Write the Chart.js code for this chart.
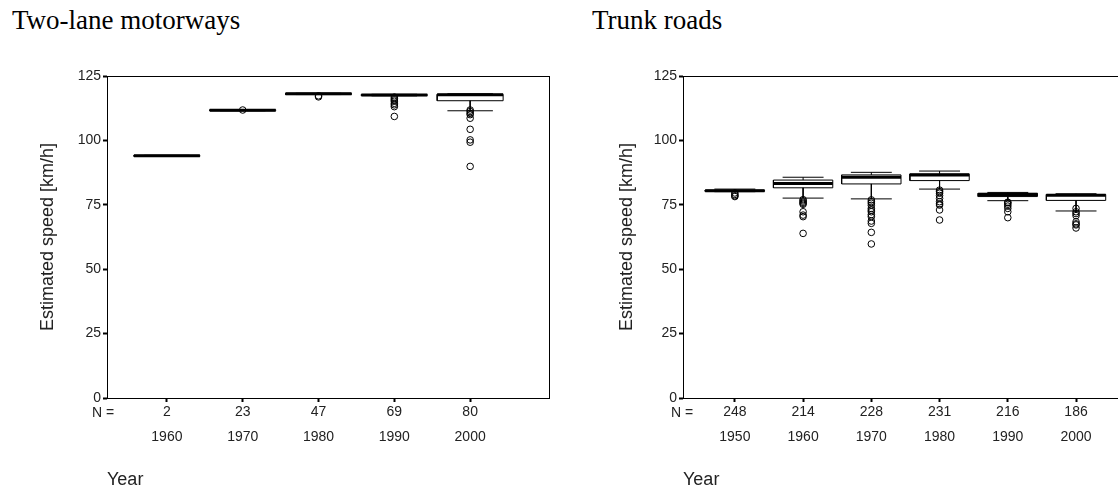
<!DOCTYPE html>
<html>
<head>
<meta charset="utf-8">
<script src="https://cdn.jsdelivr.net/npm/chart.js@4"></script>
<style>
  html, body { margin: 0; padding: 0; background: #fff; width: 1118px; height: 491px; overflow: hidden; }
  .wrap { position: relative; width: 1118px; height: 491px; overflow: hidden; }
  canvas { position: absolute; top: 0; }
  .title { position: absolute; top: 7px; font-family: "Liberation Serif", "Times New Roman", serif; font-size: 27px; line-height: 1; color: #000; white-space: nowrap; }
  .nlab { position: absolute; top: 404px; font-family: "Liberation Sans", Arial, sans-serif; font-size: 14px; line-height: 17px; color: #222; white-space: nowrap; }
</style>
</head>
<body>
<div class="wrap">
  <div class="title" style="left:12px">Two-lane motorways</div>
  <div class="title" style="left:592px">Trunk roads</div>
  <canvas id="c1" width="560" height="491" style="left:0px"></canvas>
  <canvas id="c2" width="600" height="491" style="left:560px"></canvas>
  <div class="nlab" style="left:92px">N =</div>
  <div class="nlab" style="left:671px">N =</div>
</div>
<script>
// ---- Two-lane motorways ----
const motorwayYears = ['1960', '1970', '1980', '1990', '2000'];
const motorwayN = [2, 23, 47, 69, 80];
const motorwayMin = [93.8, 111.5, 117.8, 117.3, 111.5];
const motorwayQ1 = [93.8, 111.5, 117.8, 117.4, 115.4];
const motorwayMedian = [94.0, 111.7, 118.1, 117.6, 117.7];
const motorwayQ3 = [94.2, 111.9, 118.3, 117.8, 117.9];
const motorwayMax = [94.2, 111.9, 118.3, 117.9, 118.1];
const motorwayOutliers = [
  [],
  [111.8],
  [117.3, 116.9],
  [116.8, 116.2, 115.7, 115.2, 114.4, 113.8, 113.1, 109.3],
  [111.8, 111.2, 110.5, 110.0, 108.6, 104.3, 100.2, 99.3, 89.9]
];

// ---- Trunk roads ----
const trunkYears = ['1950', '1960', '1970', '1980', '1990', '2000'];
const trunkN = [248, 214, 228, 231, 216, 186];
const trunkMin = [80.1, 77.6, 77.3, 81.1, 76.6, 72.6];
const trunkQ1 = [80.2, 81.6, 83.1, 84.4, 78.2, 76.7];
const trunkMedian = [80.5, 83.3, 85.7, 86.6, 79.0, 78.7];
const trunkQ3 = [80.7, 84.6, 86.6, 87.0, 79.5, 79.0];
const trunkMax = [81.1, 85.7, 87.6, 88.1, 79.8, 79.3];
const trunkOutliers = [
  [79.6, 79.0, 78.5, 78.2],
  [77.0, 76.5, 76.0, 75.6, 75.2, 72.3, 71.0, 70.4, 63.9],
  [76.9, 76.2, 75.6, 74.8, 73.6, 72.9, 72.3, 71.2, 70.4, 68.7, 67.8, 64.3, 59.8],
  [80.7, 80.1, 79.5, 78.6, 77.5, 76.2, 75.4, 74.9, 73.0, 69.1],
  [76.0, 75.8, 75.2, 74.5, 73.6, 72.3, 70.0],
  [73.6, 72.3, 71.6, 70.8, 68.4, 67.6, 67.2, 66.0]
];

const yTicks = [0, 25, 50, 75, 100, 125];

const frame = {
  id: 'frame',
  afterDraw(chart) {
    const a = chart.chartArea, ctx = chart.ctx;
    ctx.save();
    ctx.strokeStyle = '#000';
    ctx.lineWidth = 1;
    ctx.strokeRect(Math.round(a.left) + 0.5, Math.round(a.top) + 0.5,
                   Math.round(a.right - a.left), Math.round(a.bottom - a.top));
    ctx.restore();
  }
};

function makeBoxChart(id, years, n, mins, q1s, meds, q3s, maxs, outs, lay) {
  const HALF = 0.435, CAP = 0.3;
  const boxPts = [], medPts = [], whiskPts = [], outPts = [];
  years.forEach((_, i) => {
    boxPts.push({x: i - HALF, y: q1s[i]}, {x: i + HALF, y: q1s[i]}, {x: i + HALF, y: q3s[i]},
                {x: i - HALF, y: q3s[i]}, {x: i - HALF, y: q1s[i]}, {x: i, y: null});
    medPts.push({x: i - HALF, y: meds[i]}, {x: i + HALF, y: meds[i]}, {x: i, y: null});
    whiskPts.push({x: i, y: q3s[i]}, {x: i, y: maxs[i]}, {x: i, y: null},
                  {x: i, y: q1s[i]}, {x: i, y: mins[i]}, {x: i, y: null},
                  {x: i - CAP, y: maxs[i]}, {x: i + CAP, y: maxs[i]}, {x: i, y: null},
                  {x: i - CAP, y: mins[i]}, {x: i + CAP, y: mins[i]}, {x: i, y: null});
    outs[i].forEach(v => outPts.push({x: i, y: v}));
  });
  const lineDs = (data, w) => ({
    data, showLine: true, borderColor: '#000', borderWidth: w, pointRadius: 0,
    spanGaps: false, fill: false, borderCapStyle: 'butt'
  });
  new Chart(document.getElementById(id), {
    type: 'scatter',
    data: {
      datasets: [
        lineDs(whiskPts, 1),
        lineDs(boxPts, 1),
        lineDs(medPts, 3),
        {
          data: outPts, showLine: false, pointRadius: 3.3, pointBorderWidth: 1,
          pointBorderColor: '#000', pointBackgroundColor: 'rgba(255,255,255,0)', pointStyle: 'circle'
        }
      ]
    },
    options: {
      responsive: false,
      devicePixelRatio: 1,
      animation: false,
      events: [],
      layout: { padding: { left: lay.padLeft, top: 76, right: lay.padRight, bottom: 0 } },
      plugins: { legend: { display: false }, tooltip: { enabled: false } },
      scales: {
        x: {
          type: 'linear',
          min: lay.xMin,
          max: lay.xMax,
          afterBuildTicks: s => { s.ticks = years.map((_, i) => ({ value: i })); },
          afterFit: s => { s.height = 93; },
          ticks: {
            autoSkip: false, maxRotation: 0, minRotation: 0,
            color: '#222',
            padding: -2,
            font: { family: '"Liberation Sans", Arial, sans-serif', size: 14, lineHeight: 25 / 14 },
            callback: (v, idx) => [String(n[idx]), years[idx]]
          },
          grid: { drawOnChartArea: false, drawTicks: true, tickLength: 4, color: '#000', tickWidth: 2 },
          border: { display: true, color: '#000', width: 1 },
          title: {
            display: true, text: 'Year', align: 'start', color: '#222',
            font: { family: '"Liberation Sans", Arial, sans-serif', size: 18 },
            padding: { top: 0, bottom: 0 }
          }
        },
        y: {
          type: 'linear',
          min: 0,
          max: 125,
          afterBuildTicks: s => { s.ticks = yTicks.map(v => ({ value: v })); },
          afterFit: s => { s.width = lay.yWidth; },
          ticks: {
            color: '#222', padding: 2,
            font: { family: '"Liberation Sans", Arial, sans-serif', size: 14 }
          },
          grid: { drawOnChartArea: false, drawTicks: true, tickLength: 4, color: '#000', tickWidth: 2 },
          border: { display: true, color: '#000', width: 1 },
          title: {
            display: true, text: 'Estimated speed [km/h]', color: '#222',
            font: { family: '"Liberation Sans", Arial, sans-serif', size: 18 },
            padding: { top: 0, bottom: 0 }
          }
        }
      }
    },
    plugins: [frame]
  });
}

makeBoxChart('c1', motorwayYears, motorwayN, motorwayMin, motorwayQ1, motorwayMedian,
             motorwayQ3, motorwayMax, motorwayOutliers,
             { padLeft: 37, yWidth: 70, padRight: 11, xMin: -0.79, xMax: 5.04 });
makeBoxChart('c2', trunkYears, trunkN, trunkMin, trunkQ1, trunkMedian,
             trunkQ3, trunkMax, trunkOutliers,
             { padLeft: 56, yWidth: 67, padRight: 13, xMin: -0.76, xMax: 6.04 });
</script>
</body>
</html>
